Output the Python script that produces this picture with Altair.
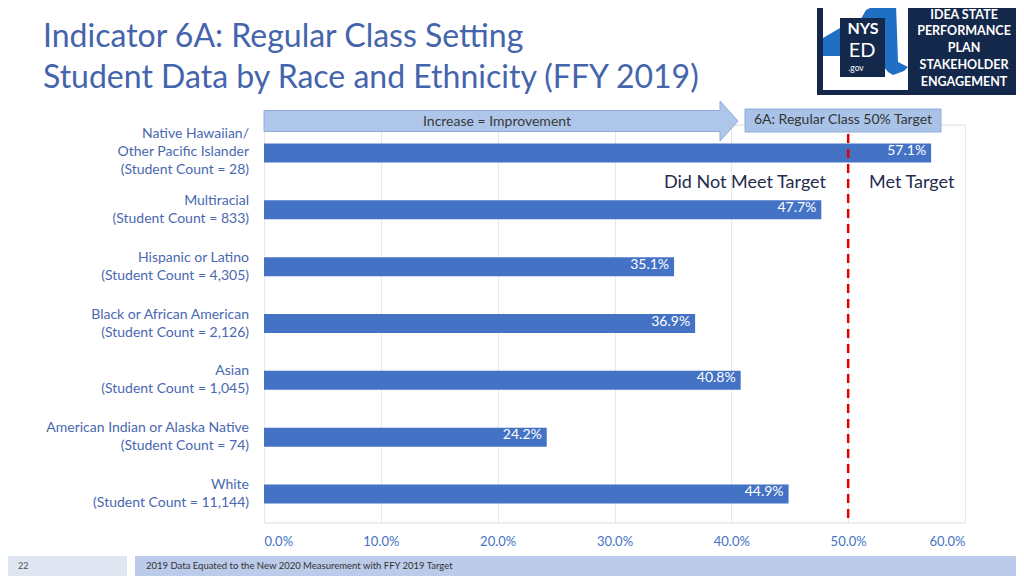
import altair as alt
import pandas as pd

# ---------------- data ----------------
groups = ["Native Hawaiian/\nOther Pacific Islander", "Multiracial", "Hispanic or Latino",
          "Black or African American", "Asian", "American Indian or Alaska Native", "White"]
counts = ["28", "833", "4,305", "2,126", "1,045", "74", "11,144"]
rates = [57.1, 47.7, 35.1, 36.9, 40.8, 24.2, 44.9]
x_ticks = [0, 10, 20, 30, 40, 50, 60]
target = 50

title_lines = ["Indicator 6A: Regular Class Setting",
               "Student Data by Race and Ethnicity (FFY 2019)"]
logo_lines = ["IDEA STATE", "PERFORMANCE", "PLAN", "STAKEHOLDER", "ENGAGEMENT"]
footer_text = "2019 Data Equated to the New 2020 Measurement with FFY 2019 Target"
page_number = "22"

cats = [f"{g}\n(Student Count = {c})" for g, c in zip(groups, counts)]
nlines = [c.count("\n") + 1 for c in cats]
df = pd.DataFrame({"cat": cats, "rate": [r / 100 for r in rates], "n": nlines})

FONT = "Lato"
BLUE = "#4472C4"
LABEL = "#4a68b0"
TITLE = "#4464ac"

W, H = 701, 398
OX, OY = 264, 124.5  # screen position of plot origin
TOTAL_H = 568


def sx(v):
    return v - OX


def sy(v):
    return v - OY


one = pd.DataFrame({"k": [0]})

xscale = alt.Scale(domain=[0, 0.6], nice=False, zero=True)
yscale = alt.Scale(domain=cats, paddingInner=0, paddingOuter=0)

base = alt.Chart(df)

bars = base.mark_bar(size=19, color=BLUE).encode(
    x=alt.X("rate:Q", scale=xscale,
            axis=alt.Axis(values=[t / 100 for t in x_ticks], format=".1%", grid=True,
                          gridColor="#e8e8e8", gridWidth=1, domain=False, ticks=False,
                          labelColor=BLUE, labelFontSize=13, labelFont=FONT,
                          labelPadding=13, title=None)),
    y=alt.Y("cat:N", scale=yscale, axis=None, sort=None),
)

bar_labels = base.mark_text(align="right", baseline="middle", dx=-5, dy=-2, color="white",
                            fontSize=14, font=FONT).encode(
    x=alt.X("rate:Q", scale=xscale),
    y=alt.Y("cat:N", scale=yscale, sort=None),
    text=alt.Text("rate:Q", format=".1%"),
)


def cat_label_layer(n, dy):
    return base.transform_filter(alt.datum.n == n).mark_text(
        align="right", baseline="middle", lineBreak="\n", lineHeight=18, dy=dy,
        fontSize=14, font=FONT, color=LABEL).encode(
        x=alt.value(-15),
        y=alt.Y("cat:N", scale=yscale, sort=None),
        text="cat:N",
    )


cat_labels = [cat_label_layer(3, -19), cat_label_layer(2, -9)]

tdf = pd.DataFrame({"t": [target / 100]})
target_rule = alt.Chart(tdf).mark_rule(color="#e50000", strokeWidth=2.5,
                                       strokeDash=[9, 6]).encode(
    x=alt.X("t:Q", scale=xscale),
    y=alt.value(sy(134)),
    y2=alt.value(H),
)


def rect(x1, y1, x2, y2, color, stroke=None, sw=0, opacity=1):
    kw = dict(color=color, opacity=opacity)
    if stroke:
        kw.update(stroke=stroke, strokeWidth=sw)
    return alt.Chart(one).mark_rect(**kw).encode(
        x=alt.value(sx(x1)), x2=alt.value(sx(x2)),
        y=alt.value(sy(y1)), y2=alt.value(sy(y2)))


def text(t, x, y, size, color, align="left", weight="normal", font=FONT):
    return alt.Chart(one).mark_text(text=t, align=align, baseline="middle", fontSize=size,
                                    color=color, fontWeight=weight, font=font).encode(
        x=alt.value(sx(x)), y=alt.value(sy(y)))


# arrow "Increase = Improvement"
ax1, ax2 = 264, 738
acx, acy = (ax1 + ax2) / 2, 121
unit = (ax2 - ax1) / 2
bh, hh = 10.5 / unit, 20 / unit
hs = (720 - acx) / unit
arrow_path = (f"M -1 {-bh} L {hs} {-bh} L {hs} {-hh} L 1 0 L {hs} {hh} "
              f"L {hs} {bh} L -1 {bh} Z")
arrow = alt.Chart(one).mark_point(shape=arrow_path, filled=True, fill="#adc6ea",
                                  stroke="#8fabdc", strokeWidth=1, opacity=1,
                                  size=(2 * unit) ** 2).encode(
    x=alt.value(sx(acx)), y=alt.value(sy(acy)))

arrow_text = text("Increase = Improvement", 497, 122, 14, "#3a3a3a", align="center")
target_box = rect(745, 109, 941, 132, "#a9c3e8", stroke="#8fabdc", sw=1)
target_text = text("6A: Regular Class 50% Target", 843, 120, 14, "#333333", align="center")

dnm = text("Did Not Meet Target", 826, 183, 18, "#1f2d4f", align="right")
met = text("Met Target", 869, 183, 18, "#1f2d4f", align="left")

titles = [text(title_lines[0], 43, 37, 32, TITLE), text(title_lines[1], 43, 78, 32, TITLE)]

# logo
NAVY = "#14284b"
logo_bg = rect(817, 0, 1024, 95, NAVY)
logo_white = rect(823, 3, 908, 90, "white")
ny_path = ("M -1.0 -0.095 L -0.595 -0.333 L -0.167 -0.429 L 0.024 -0.762 L 0.31 -0.905 "
           "L 0.738 -0.905 L 0.786 0.476 L 1.024 0.595 L 0.929 0.69 L 0.667 0.786 "
           "L 0.548 0.714 L 0.357 0.476 L 0.071 0.333 L -1.0 0.333 Z")
ny_shape = alt.Chart(one).mark_point(shape=ny_path, filled=True, fill="#1f6fc4", opacity=1,
                                     size=84 ** 2).encode(
    x=alt.value(sx(865)), y=alt.value(sy(42)))
logo_dark = rect(840, 18, 885, 77, NAVY)
logo_nys = text("NYS", 863, 29, 16, "white", align="center", weight="bold")
logo_ed = text("ED", 862, 51, 20, "white", align="center")
logo_gov = text(".gov", 856, 68, 8.5, "white", align="center")
logo_texts = [text(t, 964, y, 12.5, "white", align="center", weight="bold")
              for t, y in zip(logo_lines, [15, 31, 48, 65, 82])]

# footer
foot_left = rect(0, 556, 127, 576, "#dfe6f2")
foot_right = rect(135, 556, 1024, 576, "#bccbea")
foot_num = text(page_number, 18, 566, 9, "#555555")
foot_txt = text(footer_text, 146, 566, 9.5, "#333333")

chart = alt.layer(
    bars, bar_labels, *cat_labels, target_rule,
    arrow, arrow_text, target_box, target_text, dnm, met,
    *titles, logo_bg, logo_white, ny_shape, logo_dark, logo_nys, logo_ed, logo_gov,
    *logo_texts, foot_left, foot_right, foot_num, foot_txt,
).properties(
    width=W, height=H,
    autosize=alt.AutoSizeParams(type="none"),
    padding={"left": OX - 8, "top": OY - 8, "right": 1008 - (OX - 8) - W,
             "bottom": TOTAL_H - (OY - 8) - H},
).configure_view(stroke=None).configure(font=FONT)

chart.save("out.html", embed_options={"renderer": "svg", "actions": False})
